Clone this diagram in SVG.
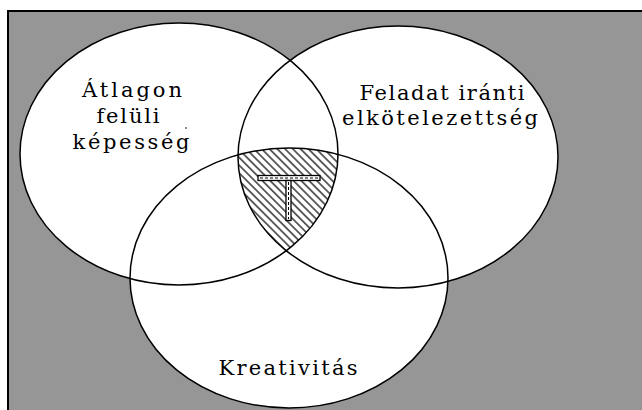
<svg xmlns="http://www.w3.org/2000/svg" width="642" height="410" viewBox="0 0 642 410">
<style>
.fill{fill:#ffffff;stroke:none}
.ring{fill:none;stroke:#000;stroke-width:1.5}
.lbl{font-family:"DejaVu Serif","Liberation Serif",serif;font-size:21px;fill:#000;text-anchor:middle}
</style>
<defs>
<pattern id="hatch" patternUnits="userSpaceOnUse" width="5.5" height="5.5" patternTransform="rotate(45)">
<line x1="0" y1="2.75" x2="5.5" y2="2.75" stroke="#000" stroke-width="1.2"/>
</pattern>
<clipPath id="clipA"><ellipse cx="179" cy="154" rx="159" ry="131"/></clipPath>
<clipPath id="clipB"><ellipse cx="398" cy="157" rx="160" ry="131"/></clipPath>
<clipPath id="clipC"><ellipse cx="289" cy="278" rx="159" ry="130"/></clipPath>
</defs>
<rect x="0" y="0" width="642" height="410" fill="#ffffff"/>
<rect id="frame" x="8" y="11" width="700" height="500" fill="#969696" stroke="#000" stroke-width="2"/>
<g id="fills">
<ellipse class="fill" cx="179" cy="154" rx="159" ry="131"/>
<ellipse class="fill" cx="398" cy="157" rx="160" ry="131"/>
<ellipse class="fill" cx="289" cy="278" rx="159" ry="130"/>
</g>
<g id="intersection">
<g clip-path="url(#clipA)"><g clip-path="url(#clipB)"><g clip-path="url(#clipC)">
<rect x="220" y="130" width="140" height="140" fill="url(#hatch)"/>
</g></g></g>
<rect x="258" y="175.5" width="62" height="5" fill="#fff" stroke="#000" stroke-width="1.3"/>
<line x1="260" y1="178" x2="318" y2="178" stroke="#000" stroke-width="1" stroke-dasharray="3 2"/>
<rect x="286" y="180.5" width="5" height="40" fill="#fff" stroke="#000" stroke-width="1.3"/>
<line x1="288.5" y1="182" x2="288.5" y2="219" stroke="#000" stroke-width="1" stroke-dasharray="3 2"/>
</g>
<g id="node-A">
<ellipse class="ring" cx="179" cy="154" rx="159" ry="131"/>
<text class="lbl" x="132" y="97" textLength="100" lengthAdjust="spacing">Átlagon</text>
<text class="lbl" x="128" y="123" textLength="63" lengthAdjust="spacing">felüli</text>
<text class="lbl" x="131" y="149" textLength="117" lengthAdjust="spacing">képesség</text>
<circle cx="186" cy="128" r="0.8" fill="#000"/>
</g>
<g id="node-B">
<ellipse class="ring" cx="398" cy="157" rx="160" ry="131"/>
<text class="lbl" x="442" y="100" textLength="165" lengthAdjust="spacing">Feladat iránti</text>
<text class="lbl" x="440" y="125" textLength="196" lengthAdjust="spacing">elkötelezettség</text>
</g>
<g id="node-C">
<ellipse class="ring" cx="289" cy="278" rx="159" ry="130"/>
<text class="lbl" x="288" y="375" textLength="139" lengthAdjust="spacing">Kreativitás</text>
</g>
</svg>
